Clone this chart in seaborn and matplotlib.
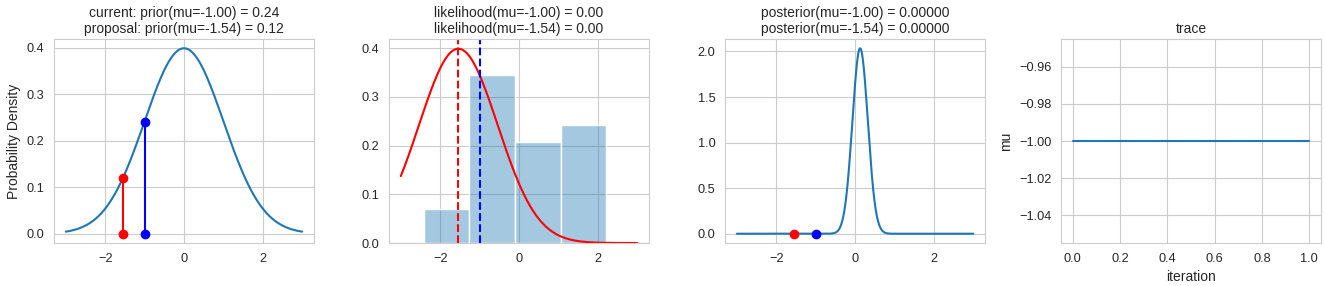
import numpy as np
import pandas as pd
import matplotlib
matplotlib.use("Agg")
import matplotlib.pyplot as plt
import seaborn as sns

# ---- data ----
mu_current = -1.00
mu_proposal = -1.54
prior_mean, prior_sd = 0.0, 1.0
prior_current = 0.24
prior_proposal = 0.12
likelihood_sd = 1.0
# histogram of observed data (bin edges and counts, 25 observations)
hist_edges = [-2.42, -1.26, -0.10, 1.06, 2.22]
hist_counts = [2, 10, 6, 7]
# analytical posterior (normal)
posterior_mean, posterior_sd = 0.13, 0.196
posterior_current = 0.0
posterior_proposal = 0.0
# trace
trace_iter = [0, 1]
trace_mu = [-1.00, -1.00]
x_range = (-3.0, 3.0)

sns.set_style("whitegrid")
plt.rcParams["font.family"] = ["Liberation Sans", "DejaVu Sans"]
plt.rcParams["axes.titlesize"] = 10
plt.rcParams["axes.labelsize"] = 10
plt.rcParams["xtick.labelsize"] = 9.2
plt.rcParams["ytick.labelsize"] = 9.2


def normpdf(x, m, s):
    return np.exp(-0.5 * ((x - m) / s) ** 2) / (s * np.sqrt(2 * np.pi))


x = np.linspace(x_range[0], x_range[1], 500)
W, H = 1325, 286
fig = plt.figure(figsize=(W / 100, H / 100), dpi=100)
lefts = [54, 389, 725, 1061]
axes = [fig.add_axes([l / W, (H - 243) / H, 260 / W, 204 / H]) for l in lefts]
ax1, ax2, ax3, ax4 = axes

blue_c = "#1f77b4"
lw = 1.5
ms = 6

# Panel 1: prior
df_prior = pd.DataFrame({"x": x, "y": normpdf(x, prior_mean, prior_sd)})
sns.lineplot(data=df_prior, x="x", y="y", ax=ax1, color=blue_c, lw=lw)
ax1.plot([mu_current] * 2, [0, prior_current], marker="o", color="b", lw=lw, ms=ms)
ax1.plot([mu_proposal] * 2, [0, prior_proposal], marker="o", color="r", lw=lw, ms=ms)
ax1.set_title("current: prior(mu=%.2f) = %.2f\nproposal: prior(mu=%.2f) = %.2f"
              % (mu_current, prior_current, mu_proposal, prior_proposal), pad=4)
ax1.set_xlabel("")
ax1.set_ylabel("Probability Density")
ax1.set_xticks([-2, 0, 2])
ax1.set_yticks([0.0, 0.1, 0.2, 0.3, 0.4])

# Panel 2: likelihood
centers = [(hist_edges[i] + hist_edges[i + 1]) / 2 for i in range(len(hist_counts))]
sns.histplot(x=centers, weights=hist_counts, bins=hist_edges, stat="density",
             ax=ax2, color=blue_c, alpha=0.4, edgecolor="white", linewidth=1)
df_like = pd.DataFrame({"x": x, "y": normpdf(x, mu_proposal, likelihood_sd)})
sns.lineplot(data=df_like, x="x", y="y", ax=ax2, color="r", lw=lw)
ax2.axvline(mu_current, color="b", linestyle="--", lw=lw)
ax2.axvline(mu_proposal, color="r", linestyle="--", lw=lw)
ax2.set_title("likelihood(mu=%.2f) = %.2f\nlikelihood(mu=%.2f) = %.2f"
              % (mu_current, 0.0, mu_proposal, 0.0), pad=4)
ax2.set_xlabel("")
ax2.set_ylabel("")
ax2.set_xlim(-3.3, 3.3)
ax2.set_xticks([-2, 0, 2])
ax2.set_yticks([0.0, 0.1, 0.2, 0.3, 0.4])

# Panel 3: posterior
df_post = pd.DataFrame({"x": x, "y": normpdf(x, posterior_mean, posterior_sd)})
sns.lineplot(data=df_post, x="x", y="y", ax=ax3, color=blue_c, lw=lw)
ax3.plot([mu_current], [posterior_current], marker="o", color="b", ms=ms)
ax3.plot([mu_proposal], [posterior_proposal], marker="o", color="r", ms=ms)
ax3.set_title("posterior(mu=%.2f) = %.5f\nposterior(mu=%.2f) = %.5f"
              % (mu_current, posterior_current, mu_proposal, posterior_proposal), pad=4)
ax3.set_xlabel("")
ax3.set_ylabel("")
ax3.set_xticks([-2, 0, 2])
ax3.set_yticks([0.0, 0.5, 1.0, 1.5, 2.0])

# Panel 4: trace
sns.lineplot(x=trace_iter, y=trace_mu, ax=ax4, color=blue_c, lw=lw)
ax4.set_title("trace", pad=4)
ax4.set_xlabel("iteration")
ax4.set_ylabel("mu")

fig.savefig("out.png", dpi=100)
